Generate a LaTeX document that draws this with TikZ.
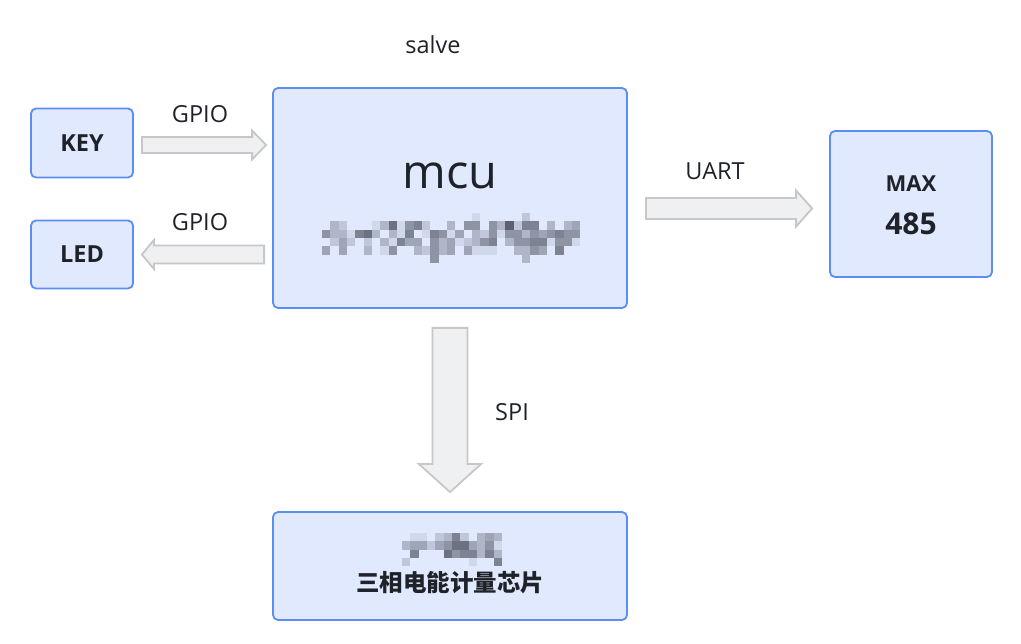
\documentclass[tikz,border=0pt]{standalone}
\usepackage{fontspec}
\setmainfont{Open Sans}
\newfontfamily\cjk{Noto Sans CJK SC}
\usetikzlibrary{calc}
\definecolor{boxfill}{HTML}{E1E9FE}
\definecolor{boxline}{HTML}{5B8EF2}
\definecolor{arrfill}{HTML}{EFF0F1}
\definecolor{arrline}{HTML}{C5C7CA}
\definecolor{ink}{HTML}{1F2329}
\definecolor{mosaic}{HTML}{3A3F4B}

% fat outlined arrow: from, to, body half width, head half width, head length
\newcommand{\fatarrow}[5]{%
  \coordinate (hb) at ($(#2)!#5!(#1)$);
  \draw[fatarr] ($(#1)!#3!90:(#2)$) -- ($(hb)!#3!90:(#2)$) -- ($(hb)!#4!90:(#2)$)
    -- (#2) -- ($(hb)!#4!-90:(#2)$) -- ($(hb)!#3!-90:(#2)$) -- ($(#1)!#3!-90:(#2)$) -- cycle;
}

\begin{document}
\begin{tikzpicture}[
  x=1pt, y=-1pt,
  every node/.style={text=ink},
  block/.style={draw=boxline, fill=boxfill, line width=1.8pt, rounded corners=5pt,
                inner sep=0pt},
  small/.style={font=\fontsize{23.5}{27}\selectfont\bfseries},
  tag/.style={font=\fontsize{23.5}{27}\selectfont},
  fatarr/.style={draw=arrline, fill=arrfill, line width=1.8pt, line join=miter},
]
  \useasboundingbox (0,0) rectangle (1021,644);

  \node[block, minimum width=102pt, minimum height=69pt, small] (key) at (82,143) {KEY};
  \node[block, minimum width=102pt, minimum height=68pt, small] (led) at (82,254.5) {LED};
  \node[block, minimum width=354pt, minimum height=220pt] (mcu) at (450,198) {};
  \node[block, minimum width=162pt, minimum height=146pt] (max) at (911,204) {};
  \node[block, minimum width=354pt, minimum height=108pt] (chip) at (450,566) {};

  \node[font=\fontsize{47}{53}\selectfont] (mcutxt) at (450,176) {mcu};
  \node[font=\fontsize{22}{26}\selectfont\bfseries] (maxtxt) at (911,184) {MAX};
  \node[font=\fontsize{30}{34}\selectfont\bfseries] (num) at (911,224) {485};
  \node[font=\fontsize{23.5}{27}\selectfont\cjk\bfseries] (chiptxt) at (450,583) {三相电能计量芯片};

  % redacted text
  \foreach \r/\cells in {
      0/{0,0,0,0,0,0,0,0,0,0,0,0,0,0,0,0,0,0,1,0,0,0,0,0,2,0,0,0,0,0,0},
      1/{0,3,2,0,0,0,1,3,7,1,5,6,2,0,0,3,0,5,5,0,5,3,8,2,6,6,0,3,0,3,4},
      2/{5,3,3,1,6,7,3,0,3,1,6,0,1,6,5,1,4,0,3,2,5,1,5,5,3,5,4,5,6,5,5},
      3/{0,2,4,2,0,2,0,3,1,6,4,4,0,5,3,4,1,2,3,5,6,0,3,5,5,6,6,1,5,5,1},
      4/{4,0,4,0,0,3,0,1,5,0,0,3,2,5,3,4,0,4,1,1,1,0,0,3,3,5,4,0,6,0,0},
      5/{0,0,0,0,0,0,0,0,0,0,0,0,0,5,0,0,0,0,0,0,0,0,0,0,3,0,0,0,0,0,0}}
    \foreach \v [count=\c from 0] in \cells {
      \ifnum\v>0
        \fill[mosaic!\v0!boxfill] (322+\c*8.33,213+\r*8.33) rectangle ++(8.33,8.33);
      \fi
    };
  \foreach \r/\cells in {
      0/{0,1,1,0,2,3,6,2,0,3,4,3},
      1/{3,4,4,2,4,5,7,7,4,3,5,1},
      2/{0,6,0,0,0,7,5,6,6,3,6,3},
      3/{2,0,0,0,0,0,0,0,1,0,0,6}}
    \foreach \v [count=\c from 0] in \cells {
      \ifnum\v>0
        \fill[mosaic!\v0!boxfill] (402+\c*8.33,533+\r*8.33) rectangle ++(8.33,8.33);
      \fi
    };

  \node[tag] (salve) at (433,45) {salve};

  % connectors
  \coordinate (keyout) at ($(key.east)+(8,2)$);
  \coordinate (mcuin) at ($(mcu.west |- keyout)+(-6,0)$);
  \coordinate (mcuout) at ($(mcu.west |- led.east)+(-8,0)$);
  \coordinate (ledin) at ($(led.east)+(8,0)$);
  \coordinate (uartout) at ($(mcu.east)+(18,10.5)$);
  \coordinate (maxin) at ($(max.west |- uartout)+(-17,0)$);
  \coordinate (spiout) at ($(mcu.south)+(0,19)$);
  \coordinate (chipin) at ($(chip.north)+(0,-19)$);

  \fatarrow{keyout}{mcuin}{8pt}{14.5pt}{14pt}
  \fatarrow{mcuout}{ledin}{9pt}{14.5pt}{12pt}
  \fatarrow{uartout}{maxin}{10.5pt}{18pt}{16pt}
  \fatarrow{spiout}{chipin}{17.5pt}{31pt}{28pt}

  \node[tag] (gpio1) at (200,114) {GPIO};
  \node[tag] (gpio2) at (200,222) {GPIO};
  \node[tag] (uart) at (715,171) {UART};
  \node[tag] (spi) at (512,412) {SPI};
\end{tikzpicture}
\end{document}
